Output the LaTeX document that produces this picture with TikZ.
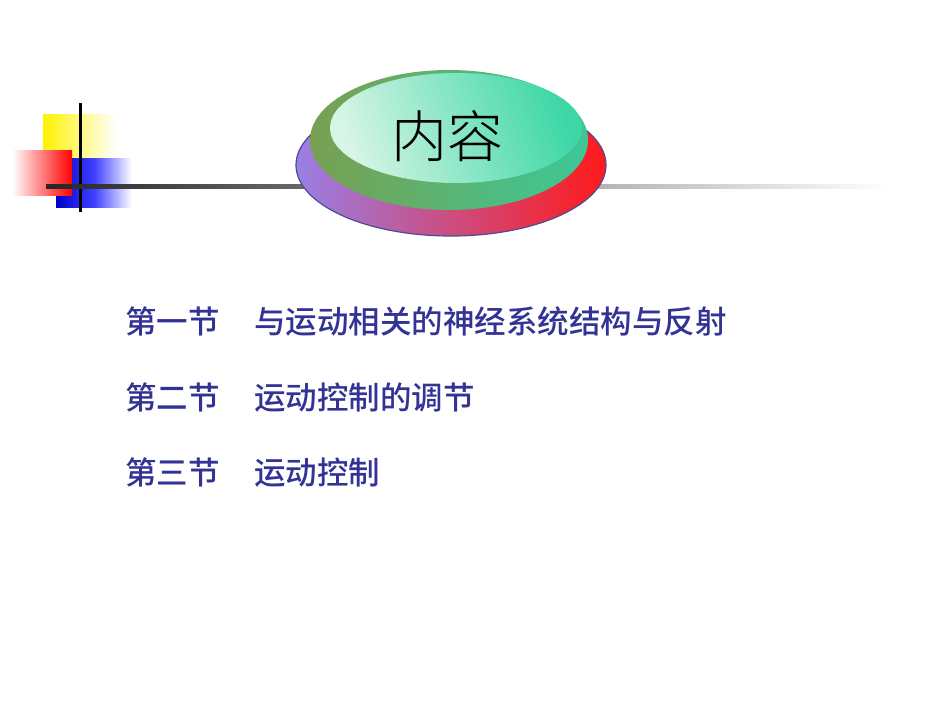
\documentclass[tikz,border=0pt]{standalone}
\usepackage{fontspec}
\newfontfamily\cjk{Noto Sans CJK SC Medium}
\newfontfamily\cjkl{Noto Sans CJK SC Light}
\definecolor{itemblue}{RGB}{51,51,150}
\definecolor{olivegr}{RGB}{120,160,80}
\definecolor{tealgr}{RGB}{60,200,150}
\definecolor{lightgr}{RGB}{215,245,230}
\definecolor{midgr}{RGB}{60,215,165}
\begin{document}
\begin{tikzpicture}[x=1pt,y=-1pt,
  item/.style={anchor=west,text=itemblue,font=\cjk\fontsize{31.5}{34}\selectfont,inner sep=0pt}]
\useasboundingbox[fill=white] (0,0) rectangle (950,713);
% decoration squares
\shade[left color=yellow!90!orange,right color=white] (43,114) rectangle (116,158);
\shade[left color=blue!80!black,right color=white,middle color=blue!75] (56,158) rectangle (132,207);
\shade[right color=red,left color=white] (12,150) rectangle (72,195);
\draw[line width=3pt] (80,103) -- (80,212);
\shade[left color=black!85,right color=white] (46,184.5) rectangle (890,188);
% button
\shade[left color=violet!40!blue!50!white,right color=red!90] (451,165) ellipse [x radius=155,y radius=71];
\draw[color=blue!40!black!70,line width=1.2pt] (451,165) ellipse [x radius=155,y radius=71];
\shade[left color=olivegr,right color=tealgr] (449,140) ellipse [x radius=139,y radius=70];
\shade[left color=lightgr,right color=midgr,shading angle=110] (456,128) ellipse [x radius=126,y radius=55];
\node[font=\cjkl\fontsize{56}{60}\selectfont] (t) at (447,136) {内容};
% items
\node[item] (a) at (125,322) {第一节\hspace{1.1em}与运动相关的神经系统结构与反射};
\node[item] (b) at (125,398) {第二节\hspace{1.1em}运动控制的调节};
\node[item] (c) at (125,473) {第三节\hspace{1.1em}运动控制};
\end{tikzpicture}
\end{document}
